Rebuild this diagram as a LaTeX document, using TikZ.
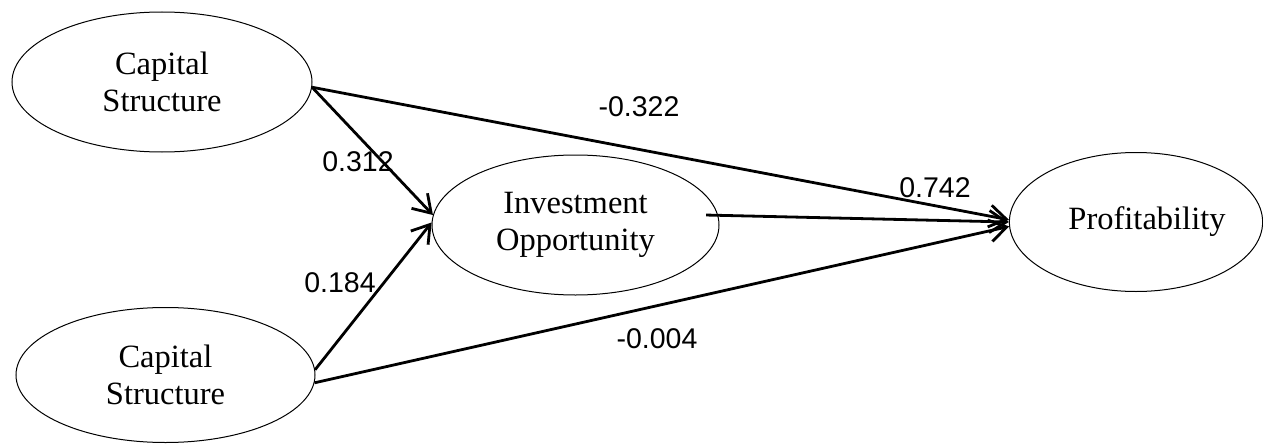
\documentclass[tikz,border=0pt]{standalone}
\usepackage{fontspec}
\setmainfont{Liberation Serif}
\newfontfamily\coeffont{Liberation Sans}
\usetikzlibrary{arrows.meta}
\usetikzlibrary{shapes.geometric}

\begin{document}
\begin{tikzpicture}[x=1pt,y=-1pt]
  \tikzset{construct/.style = {shape=ellipse,draw,line width=1pt,align=center,inner sep=0pt,
      font=\fontsize{32.5}{37}\selectfont}}
  \tikzset{edge/.style = {line width=2.8pt,-{Straight Barb[length=17pt,width=22pt,line width=2.8pt]}}}
  \tikzset{coef/.style = {inner sep=0pt,font=\coeffont\fontsize{28.5}{34}\selectfont}}

  \useasboundingbox (0,0) rectangle (1263,444);

	\node[construct,minimum width=300pt,minimum height=140pt] (cs1) at (162,82) {Capital\\Structure};
	\node[construct,minimum width=299pt,minimum height=135pt] (cs2) at (165.5,375) {Capital\\Structure};
	\node[construct,minimum width=287pt,minimum height=140pt] (io) at (575.5,225) {Investment\\Opportunity};
	\node[construct,minimum width=252pt,minimum height=139pt] (prof) at (1136,222) {\hspace*{22pt}Profitability};

       \foreach \from/\to in {cs1.-2/io.176, cs2.2/io.179, cs1.-2/prof.179, cs2.-3/prof.182}
    \draw[edge] (\from) -- (\to);
    \draw[edge] ([xshift=-12pt]io.4) -- (prof.west);

	\node[coef] (b1) at (639,107) {-0.322};
	\node[coef] (b2) at (358,162) {0.312};
	\node[coef] (b3) at (340,283) {0.184};
	\node[coef] (b4) at (935,188) {0.742};
	\node[coef] (b5) at (657,339) {-0.004};
\end{tikzpicture}
\end{document}
